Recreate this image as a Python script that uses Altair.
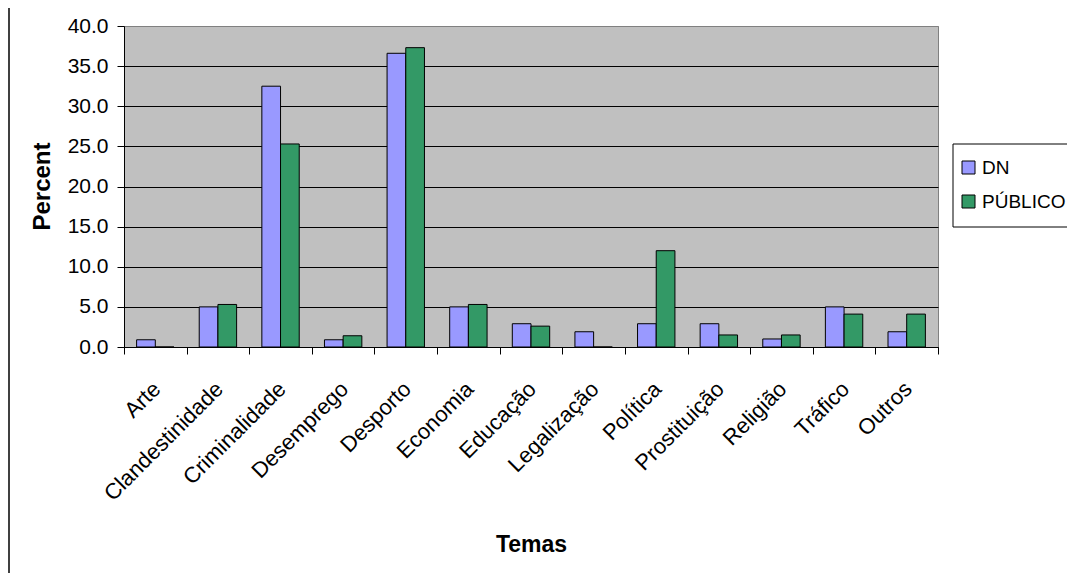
import altair as alt
import pandas as pd

temas = ["Arte", "Clandestinidade", "Criminalidade", "Desemprego", "Desporto",
         "Economia", "Educação", "Legalização", "Política", "Prostituição",
         "Religião", "Tráfico", "Outros"]
dn = [0.9, 5.0, 32.5, 0.9, 36.6, 5.0, 2.9, 1.9, 2.9, 2.9, 1.0, 5.0, 1.9]
publico = [0.0, 5.3, 25.3, 1.4, 37.3, 5.3, 2.6, 0.0, 12.0, 1.5, 1.5, 4.1, 4.1]
series = ["DN", "PÚBLICO"]
colors = ["#9999FF", "#339966"]
y_ticks = [0, 5, 10, 15, 20, 25, 30, 35, 40]

rows = []
for t, a, b in zip(temas, dn, publico):
    rows.append({"Tema": t, "Jornal": series[0], "Percent": a})
    rows.append({"Tema": t, "Jornal": series[1], "Percent": b})
df = pd.DataFrame(rows)

FONT = "Liberation Sans"

bars = alt.Chart(df).mark_bar(stroke="black", strokeWidth=1, opacity=1).encode(
    x=alt.X("Tema:N", sort=temas,
            scale=alt.Scale(paddingInner=0, paddingOuter=0),
            axis=alt.Axis(title="Temas", tickBand="extent", tickSize=7,
                          tickColor="black", domainColor="black",
                          labelAngle=-45, labelAlign="right", labelBaseline="top",
                          labelPadding=24, labelOffset=-6,
                          labelFontSize=22, labelFont=FONT,
                          labelColor="black", labelOverlap=False,
                          titleFont=FONT, titleFontSize=23, titleFontWeight="bold",
                          titleColor="black", titleY=204, titleBaseline="alphabetic",
                          grid=False)),
    xOffset=alt.XOffset("Jornal:N", sort=series,
                        scale=alt.Scale(domain=series, paddingOuter=0.675, paddingInner=0)),
    y=alt.Y("Percent:Q",
            scale=alt.Scale(domain=[0, 40], nice=False),
            axis=alt.Axis(title="Percent", values=y_ticks, format=".1f",
                          tickSize=7, tickColor="black", domainColor="black",
                          labelFontSize=21, labelFont=FONT, labelColor="black",
                          labelPadding=9,
                          titleFont=FONT, titleFontSize=24, titleFontWeight="bold",
                          titleColor="black", titleX=-82, titleY=160,
                          titleBaseline="middle",
                          grid=True,
                          gridColor=alt.condition("datum.value == 40",
                                                  alt.value("#808080"),
                                                  alt.value("black")),
                          gridWidth=1)),
    color=alt.Color("Jornal:N", sort=series,
                    scale=alt.Scale(domain=series, range=colors),
                    legend=alt.Legend(title=None, orient="none", legendX=835, legendY=132,
                                      padding=0, rowPadding=14,
                                      symbolType="square", symbolSize=169,
                                      symbolStrokeColor="black", symbolStrokeWidth=1,
                                      symbolOpacity=1,
                                      labelFontSize=19, labelFont=FONT,
                                      labelColor="black", labelOffset=4)),
)

legend_box = alt.Chart(pd.DataFrame({"v": [0]})).mark_rect(
    fill="white", stroke="black", strokeWidth=1).encode(
    x=alt.value(829), x2=alt.value(990), y=alt.value(118), y2=alt.value(201))

border = alt.Chart(pd.DataFrame({"v": [0]})).mark_rule(
    color="#404040", strokeWidth=2).encode(
    x=alt.value(-115), y=alt.value(-18), y2=alt.value(560))

chart = alt.layer(bars, legend_box, border).properties(
    width=814, height=321,
    autosize=alt.AutoSizeParams(type="none"),
    padding={"left": 116, "top": 18, "right": 129, "bottom": 226},
    background="white",
).configure_view(
    fill="#C0C0C0", stroke="#808080", strokeWidth=1
)

chart.save("out.html", embed_options={"renderer": "svg", "actions": False})
